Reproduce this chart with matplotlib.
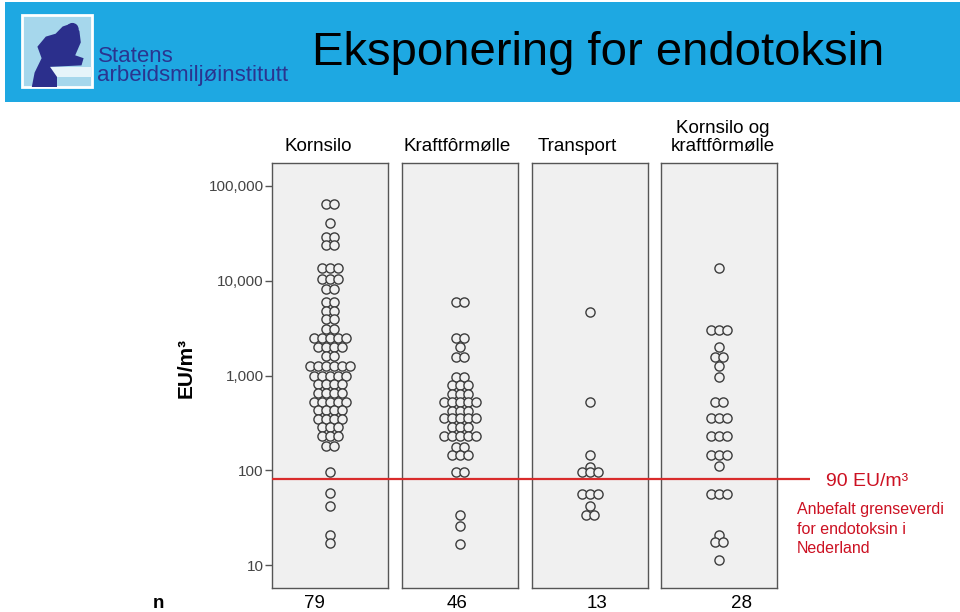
import numpy as np
import matplotlib
matplotlib.use('Agg')
import matplotlib.pyplot as plt
from matplotlib.patches import Rectangle, Polygon, Circle

plt.rcParams['font.family'] = ['Liberation Sans', 'DejaVu Sans']

# dot plot rows: value (EU/m3) and number of dots in the row
kornsilo_vals = [65000, 41000, 29000, 24000, 13500, 10400, 8200, 6000, 4800, 3900, 3100,
                 2500, 2000, 1600, 1260, 1000, 815, 656, 529, 436, 351, 290, 233, 179,
                 95, 58, 42, 20.6, 17]
kornsilo_counts = [2, 1, 2, 2, 3, 3, 2, 2, 2, 2, 2,
                   5, 4, 2, 6, 5, 4, 4, 5, 4, 4, 3, 3, 2,
                   1, 1, 1, 1, 1]

kraftfor_vals = [6000, 2460, 1990, 1560, 964, 796, 641, 529, 426, 360, 290, 233,
                 175, 144, 95, 34, 26, 16.6]
kraftfor_counts = [2, 2, 1, 2, 2, 3, 3, 5, 3, 5, 3, 5,
                   2, 3, 2, 1, 1, 1]

transport_vals = [4720, 529, 144, 108, 95, 56, 42, 34]
transport_counts = [1, 1, 1, 1, 3, 3, 1, 2]

begge_vals = [13600, 2990, 1990, 1560, 1260, 964, 529, 360, 233, 144, 111, 56, 21, 17.4, 11.3]
begge_counts = [1, 3, 1, 2, 1, 1, 2, 3, 3, 3, 1, 3, 1, 2, 1]

group_names = ['Kornsilo', 'Kraftfôrmølle', 'Transport', 'Kornsilo og\nkraftfôrmølle']
group_vals = [kornsilo_vals, kraftfor_vals, transport_vals, begge_vals]
group_counts = [kornsilo_counts, kraftfor_counts, transport_counts, begge_counts]

y_ticks = [10, 100, 1000, 10000, 100000]
y_ticklabels = ['10', '100', '1,000', '10,000', '100,000']
limit_value = 82  # red guideline (labelled 90 EU/m3)

W, H = 960, 612
fig = plt.figure(figsize=(W / 100, H / 100), dpi=100)


def fx(px):
    return px / W


def fy(py):
    return 1 - py / H


# header band (behind everything)
fig.patches.append(Rectangle((fx(5), fy(102)), fx(955), 100 / H, transform=fig.transFigure,
                             facecolor='#1ea8e2', edgecolor='none', zorder=-5))
fig.text(fx(312), fy(53), 'Eksponering for endotoksin', fontsize=34, color='black',
         ha='left', va='center')

# logo
ax_logo = fig.add_axes([fx(22), fy(87), fx(70), 72 / H])
ax_logo.set_xlim(0, 1)
ax_logo.set_ylim(0, 1)
ax_logo.axis('off')
ax_logo.add_patch(Rectangle((0, 0), 1, 1, facecolor='#a6d7ec', edgecolor='white', lw=2,
                            clip_on=False))
ax_logo.add_patch(Rectangle((0.38, 0.14), 0.62, 0.14, facecolor='#e6f4fa', edgecolor='none'))
body = [(0.14, 0.0), (0.50, 0.0), (0.50, 0.14), (0.40, 0.28), (0.85, 0.30), (0.88, 0.40),
        (0.76, 0.44), (0.84, 0.62), (0.82, 0.78), (0.70, 0.88), (0.58, 0.84), (0.48, 0.74),
        (0.34, 0.70), (0.22, 0.56), (0.28, 0.40), (0.18, 0.20)]
ax_logo.add_patch(Polygon(body, closed=True, facecolor='#2b2f8c', edgecolor='none'))
ax_logo.add_patch(Circle((0.72, 0.80), 0.09, facecolor='#2b2f8c', edgecolor='none'))
fig.text(fx(98), fy(56), 'Statens', fontsize=16, color='#2a3590', ha='left', va='center')
fig.text(fx(97), fy(75), 'arbeidsmiljøinstitutt', fontsize=16, color='#2a3590',
         ha='left', va='center')

# panels
panel_left = [272, 402, 532, 661]
panel_w = 116
panel_top, panel_bot = 163, 588
ylim = (10 ** 0.76, 10 ** 5.24)
dx = 0.141

axes = []
for i in range(4):
    ax = fig.add_axes([fx(panel_left[i]), fy(panel_bot), fx(panel_w), (panel_bot - panel_top) / H])
    ax.set_facecolor('#f0f0f0')
    ax.set_yscale('log')
    ax.set_ylim(*ylim)
    ax.set_xlim(-1, 1)
    ax.set_xticks([])
    for s in ax.spines.values():
        s.set_color('#555555')
        s.set_linewidth(1.0)
    if i == 0:
        ax.set_yticks(y_ticks)
        ax.set_yticklabels(y_ticklabels)
        ax.yaxis.set_minor_locator(matplotlib.ticker.NullLocator())
        ax.tick_params(axis='y', length=5, width=1, color='#555555', labelcolor='#444444',
                       labelsize=11, pad=1)
    else:
        ax.set_yticks([])
        ax.yaxis.set_minor_locator(matplotlib.ticker.NullLocator())
    for v, c in zip(group_vals[i], group_counts[i]):
        xs = (np.arange(c) - (c - 1) / 2) * dx
        ax.plot(xs, np.full(c, v), 'o', ms=6.6, mfc='#f0f0f0', mec='#3c3c3c', mew=1.0,
                linestyle='none')
    axes.append(ax)

# red guideline across the panels
ax_line = fig.add_axes([fx(272), fy(panel_bot), fx(538), (panel_bot - panel_top) / H])
ax_line.set_yscale('log')
ax_line.set_ylim(*ylim)
ax_line.set_xlim(0, 1)
ax_line.axis('off')
ax_line.patch.set_alpha(0)
ax_line.plot([0, 1], [limit_value, limit_value], color='#d92b2b', lw=1.6)

# panel titles
title_x = [318, 457, 577, 723]
for name, x in zip(group_names, title_x):
    fig.text(fx(x), fy(155), name, fontsize=13.5, color='black', ha='center', va='bottom',
             linespacing=1.1)

fig.text(fx(186), fy(368), 'EU/m³', fontsize=15, fontweight='bold', rotation=90,
         ha='center', va='center')

fig.text(fx(826), fy(482), '90 EU/m³', fontsize=14, color='#cc1122', ha='left', va='center')
fig.text(fx(797), fy(502), 'Anbefalt grenseverdi\nfor endotoksin i\nNederland', fontsize=11.5,
         color='#cc1122', ha='left', va='top', linespacing=1.38)

# n row
fig.text(fx(158), fy(604), 'n', fontsize=13.5, fontweight='bold', ha='center', va='center')
n_x = [314, 457, 597, 741]
for counts, x in zip(group_counts, n_x):
    fig.text(fx(x), fy(604), str(sum(counts)), fontsize=13.5, ha='center', va='center')

plt.savefig('out.png', dpi=100)
